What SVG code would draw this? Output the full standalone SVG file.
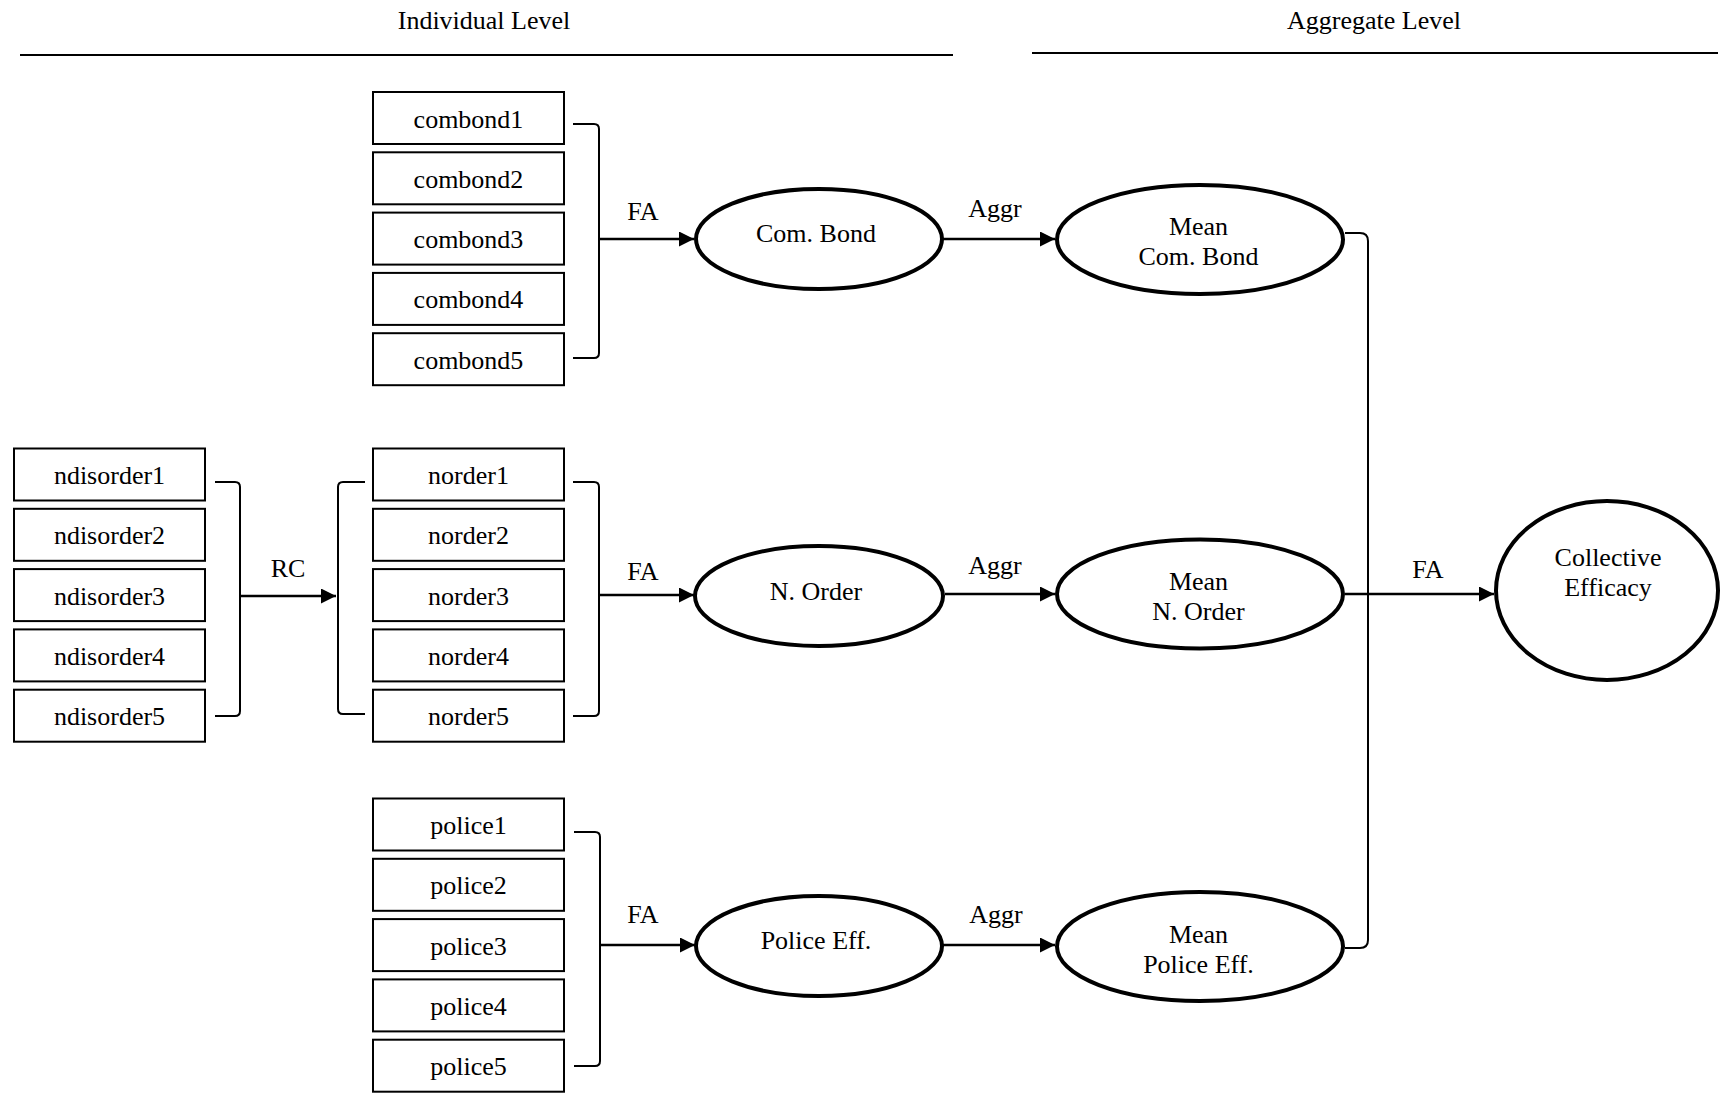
<svg xmlns="http://www.w3.org/2000/svg" width="1722" height="1094" viewBox="0 0 1722 1094">
<style>
text{font-family:"Liberation Serif","Times New Roman",serif;font-size:26px;fill:#000;text-anchor:middle}
.box{fill:#fff;stroke:#000;stroke-width:2}
.ell{fill:#fff;stroke:#000;stroke-width:4}
.br{fill:none;stroke:#000;stroke-width:2}
.arr{fill:none;stroke:#000;stroke-width:2.5;marker-end:url(#ah)}
.rule{stroke:#000;stroke-width:2}
</style>
<defs>
<marker id="ah" markerUnits="userSpaceOnUse" markerWidth="15" markerHeight="15" refX="15" refY="7.5" orient="auto">
<path d="M0,0 L15,7.5 L0,15 z" fill="#000"/>
</marker>
</defs>
<rect width="1722" height="1094" fill="#fff"/>
<g id="headers">
<text x="484" y="29">Individual Level</text>
<line class="rule" x1="20" y1="55" x2="953" y2="55"/>
<text x="1374" y="29">Aggregate Level</text>
<line class="rule" x1="1032" y1="53" x2="1718" y2="53"/>
</g>
<g id="combond1"><rect class="box" x="373" y="92" width="191" height="52"/><text x="468.5" y="127.5">combond1</text></g>
<g id="combond2"><rect class="box" x="373" y="152.3" width="191" height="52"/><text x="468.5" y="187.8">combond2</text></g>
<g id="combond3"><rect class="box" x="373" y="212.6" width="191" height="52"/><text x="468.5" y="248.1">combond3</text></g>
<g id="combond4"><rect class="box" x="373" y="272.9" width="191" height="52"/><text x="468.5" y="308.4">combond4</text></g>
<g id="combond5"><rect class="box" x="373" y="333.2" width="191" height="52"/><text x="468.5" y="368.7">combond5</text></g>
<g id="ndisorder1"><rect class="box" x="14" y="448.5" width="191" height="52"/><text x="109.5" y="484">ndisorder1</text></g>
<g id="ndisorder2"><rect class="box" x="14" y="508.8" width="191" height="52"/><text x="109.5" y="544.3">ndisorder2</text></g>
<g id="ndisorder3"><rect class="box" x="14" y="569.1" width="191" height="52"/><text x="109.5" y="604.6">ndisorder3</text></g>
<g id="ndisorder4"><rect class="box" x="14" y="629.4" width="191" height="52"/><text x="109.5" y="664.9">ndisorder4</text></g>
<g id="ndisorder5"><rect class="box" x="14" y="689.7" width="191" height="52"/><text x="109.5" y="725.2">ndisorder5</text></g>
<g id="norder1"><rect class="box" x="373" y="448.5" width="191" height="52"/><text x="468.5" y="484">norder1</text></g>
<g id="norder2"><rect class="box" x="373" y="508.8" width="191" height="52"/><text x="468.5" y="544.3">norder2</text></g>
<g id="norder3"><rect class="box" x="373" y="569.1" width="191" height="52"/><text x="468.5" y="604.6">norder3</text></g>
<g id="norder4"><rect class="box" x="373" y="629.4" width="191" height="52"/><text x="468.5" y="664.9">norder4</text></g>
<g id="norder5"><rect class="box" x="373" y="689.7" width="191" height="52"/><text x="468.5" y="725.2">norder5</text></g>
<g id="police1"><rect class="box" x="373" y="798.5" width="191" height="52"/><text x="468.5" y="834">police1</text></g>
<g id="police2"><rect class="box" x="373" y="858.8" width="191" height="52"/><text x="468.5" y="894.3">police2</text></g>
<g id="police3"><rect class="box" x="373" y="919.1" width="191" height="52"/><text x="468.5" y="954.6">police3</text></g>
<g id="police4"><rect class="box" x="373" y="979.4" width="191" height="52"/><text x="468.5" y="1014.9">police4</text></g>
<g id="police5"><rect class="box" x="373" y="1039.7" width="191" height="52"/><text x="468.5" y="1075.2">police5</text></g>
<g id="combond"><ellipse class="ell" cx="819" cy="239" rx="123" ry="50"/><text x="816" y="241.5">Com. Bond</text></g>
<g id="norder"><ellipse class="ell" cx="819" cy="596" rx="124" ry="50"/><text x="816" y="600">N. Order</text></g>
<g id="policeeff"><ellipse class="ell" cx="819" cy="946" rx="123" ry="50"/><text x="816" y="948.5">Police Eff.</text></g>
<g id="meancombond"><ellipse class="ell" cx="1200" cy="239.5" rx="143" ry="54.5"/><text x="1198.5" y="235">Mean</text><text x="1198.5" y="265">Com. Bond</text></g>
<g id="meannorder"><ellipse class="ell" cx="1200" cy="594" rx="143" ry="54.5"/><text x="1198.5" y="590">Mean</text><text x="1198.5" y="620">N. Order</text></g>
<g id="meanpolice"><ellipse class="ell" cx="1200" cy="946.5" rx="143" ry="54.5"/><text x="1198.5" y="942.5">Mean</text><text x="1198.5" y="972.5">Police Eff.</text></g>
<g id="collective"><ellipse class="ell" cx="1607" cy="590.5" rx="111" ry="89.5"/><text x="1608" y="566">Collective</text><text x="1608" y="596">Efficacy</text></g>
<g id="connectors">
<path class="br" d="M573,124 L594,124 Q599,124 599,129 L599,353 Q599,358 594,358 L573,358"/>
<path class="br" d="M215,482 L235,482 Q240,482 240,487 L240,711 Q240,716 235,716 L215,716"/>
<path class="br" d="M365,482 L343,482 Q338,482 338,487 L338,709 Q338,714 343,714 L365,714"/>
<path class="br" d="M573,482 L594,482 Q599,482 599,487 L599,711 Q599,716 594,716 L573,716"/>
<path class="br" d="M574,832 L595,832 Q600,832 600,837 L600,1061 Q600,1066 595,1066 L574,1066"/>
<path class="br" d="M1345,233 L1360,233 Q1368,233 1368,241 L1368,940 Q1368,948 1360,948 L1345,948"/>
<line class="arr" x1="240" y1="596" x2="336" y2="596"/>
<line class="arr" x1="599" y1="239" x2="694" y2="239"/>
<line class="arr" x1="599" y1="595" x2="694" y2="595"/>
<line class="arr" x1="600" y1="945" x2="695" y2="945"/>
<line class="arr" x1="943" y1="239" x2="1055" y2="239"/>
<line class="arr" x1="945" y1="594" x2="1055" y2="594"/>
<line class="arr" x1="943" y1="945" x2="1055" y2="945"/>
<line class="arr" x1="1345" y1="594" x2="1494" y2="594"/>
<text x="288" y="577">RC</text>
<text x="643" y="220">FA</text>
<text x="643" y="580">FA</text>
<text x="643" y="923">FA</text>
<text x="995" y="217">Aggr</text>
<text x="995" y="574">Aggr</text>
<text x="996" y="923">Aggr</text>
<text x="1428" y="578">FA</text>
</g>
</svg>
